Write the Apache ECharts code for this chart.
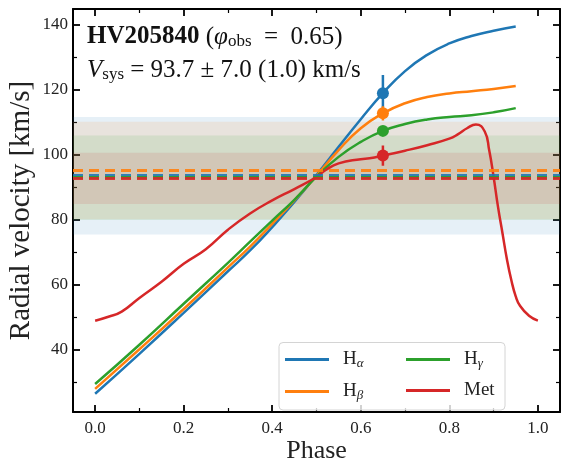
<!DOCTYPE html>
<html>
<head>
<meta charset="utf-8">
<script src="https://cdn.jsdelivr.net/npm/echarts@6/dist/echarts.min.js"></script>
<style>html,body{margin:0;padding:0;background:#fff}#c{width:561px;height:468px}</style>
</head>
<body>
<div id="c"></div>
<script>
// ---- data ----
const seriesNames = ['Hα', 'Hβ', 'Hγ', 'Met'];
const colors = ['#1f77b4', '#ff7f0e', '#2ca02c', '#d62728'];

const phaseBalmer = [0, 0.1, 0.2, 0.3, 0.35, 0.4, 0.45, 0.5, 0.55, 0.6, 0.65, 0.7, 0.75, 0.8, 0.85, 0.9, 0.95];
const hAlpha = [26.5, 38.8, 51.4, 64.2, 70.6, 77.8, 85.5, 93.8, 102.5, 111.0, 119.0, 125.8, 130.8, 134.3, 136.6, 138.2, 139.5];
const hBeta  = [28.0, 40.2, 52.6, 65.4, 71.8, 78.8, 86.0, 93.6, 101.5, 108.2, 112.8, 115.9, 117.8, 118.9, 119.6, 120.3, 121.2];
const hGamma = [29.5, 41.6, 54.2, 66.8, 73.3, 79.8, 86.2, 93.3, 99.4, 104.0, 107.4, 109.5, 110.9, 111.7, 112.2, 113.1, 114.4];

const phaseMet = [0, 0.03, 0.06, 0.1, 0.15, 0.2, 0.25, 0.3, 0.35, 0.4, 0.45, 0.5, 0.52, 0.55, 0.6, 0.62, 0.65, 0.7, 0.75, 0.8, 0.82, 0.84, 0.86, 0.88, 0.89, 0.9, 0.91, 0.92, 0.93, 0.94, 0.95, 0.96, 0.98, 1.0];
const met    = [49.0, 50.2, 51.8, 56.0, 61.0, 66.5, 71.0, 77.0, 82.0, 86.0, 89.5, 93.2, 95.3, 97.4, 98.7, 99.0, 99.8, 101.3, 103.0, 105.0, 106.4, 108.2, 109.4, 107.2, 101.5, 93.3, 84.0, 76.0, 68.0, 61.5, 56.5, 53.5, 50.5, 49.0];

const phaseObs = 0.65;
const obsValue = [119.0, 112.8, 107.4, 99.8];
const obsError = [5.6, 2.2, 1.0, 3.1];

const vsysValue = [93.6, 95.2, 93.0, 92.8];
const vsysError = [18.1, 15.0, 13.0, 7.9];

const xMajorTicks = [0.0, 0.2, 0.4, 0.6, 0.8, 1.0];
const xMinorTicks = [0.1, 0.3, 0.5, 0.7, 0.9];
const yMajorTicks = [40, 60, 80, 100, 120, 140];
const yMinorTicks = [30, 50, 70, 90, 110, 130];

// ---- chart ----
const FONT = '"Liberation Serif", "DejaVu Serif", serif';
const chart = echarts.init(document.getElementById('c'), null, {renderer: 'canvas'});

const pairs = (xs, ys) => xs.map((x, i) => [x, ys[i]]);
const curveData = [pairs(phaseBalmer, hAlpha), pairs(phaseBalmer, hBeta), pairs(phaseBalmer, hGamma), pairs(phaseMet, met)];

function rgba(hex, a) {
  const n = parseInt(hex.slice(1), 16);
  return `rgba(${(n >> 16) & 255},${(n >> 8) & 255},${n & 255},${a})`;
}

const X_MIN = -0.05, X_MAX = 1.05, Y_MIN = 20.9, Y_MAX = 144.9;
const GRID = {left: 73, right: 1, top: 9, bottom: 56, containLabel: false, outerBoundsMode: 'none'};

function xAx(grid, pos, ticks, len, w, labels, lineShow, extra) {
  return Object.assign({
    type: 'value', min: X_MIN, max: X_MAX, position: pos, gridIndex: grid, offset: 0,
    splitLine: {show: false},
    axisLine: {show: lineShow, onZero: false, lineStyle: {color: '#000', width: 2}},
    axisTick: {show: true, inside: true, length: len, lineStyle: {color: '#000', width: w}, customValues: ticks},
    axisLabel: labels ? {show: true, customValues: ticks, formatter: v => v.toFixed(1), fontFamily: FONT, fontSize: 17, color: '#222', margin: 8} : {show: false}
  }, extra || {});
}
function yAx(grid, pos, ticks, len, w, labels, lineShow, extra) {
  return Object.assign({
    type: 'value', min: Y_MIN, max: Y_MAX, position: pos, gridIndex: grid, offset: 0,
    splitLine: {show: false},
    axisLine: {show: lineShow, onZero: false, lineStyle: {color: '#000', width: 2}},
    axisTick: {show: true, inside: true, length: len, lineStyle: {color: '#000', width: w}, customValues: ticks},
    axisLabel: labels ? {show: true, customValues: ticks, formatter: v => String(v), fontFamily: FONT, fontSize: 17, color: '#222', margin: 5} : {show: false}
  }, extra || {});
}

const series = [];
// bands
seriesNames.forEach((n, i) => {
  series.push({
    name: n + '_band', type: 'line', data: [], xAxisIndex: 0, yAxisIndex: 0, z: 1, silent: true,
    markArea: {silent: true, itemStyle: {color: rgba(colors[i], 0.11)}, data: [[{yAxis: vsysValue[i] - vsysError[i]}, {yAxis: vsysValue[i] + vsysError[i]}]]}
  });
});
// dashed lines
seriesNames.forEach((n, i) => {
  series.push({
    name: n + '_vsys', type: 'line', data: [], xAxisIndex: 0, yAxisIndex: 0, z: 2, silent: true,
    markLine: {silent: true, symbol: ['none', 'none'], label: {show: false},
      lineStyle: {type: [10, 6], width: 3, color: rgba(colors[i], 0.9)},
      data: [{yAxis: vsysValue[i]}]}
  });
});
// curves
seriesNames.forEach((n, i) => {
  series.push({
    name: n, type: 'line', data: curveData[i], xAxisIndex: 0, yAxisIndex: 0, z: 3, symbol: 'none', showSymbol: false, smooth: 0.5,
    lineStyle: {width: 2.5, color: colors[i]}, itemStyle: {color: colors[i]}
  });
});
// error bars + markers
seriesNames.forEach((n, i) => {
  series.push({
    name: n + '_err', type: 'line', xAxisIndex: 0, yAxisIndex: 0, z: 4, symbol: 'none', silent: true,
    data: [[phaseObs, obsValue[i] - obsError[i]], [phaseObs, obsValue[i] + obsError[i]]],
    lineStyle: {width: 2.5, color: colors[i]}
  });
  series.push({
    name: n + '_obs', type: 'scatter', xAxisIndex: 0, yAxisIndex: 0, z: 5, symbolSize: 12, silent: true,
    data: [[phaseObs, obsValue[i]]], itemStyle: {color: colors[i], opacity: 1}
  });
});

const legendRich = {
  h: {fontFamily: FONT, fontSize: 19, lineHeight: 26, color: '#222', padding: [0, 0, 0, 9]},
  s: {fontFamily: FONT, fontSize: 13, lineHeight: 18, color: '#222', fontStyle: 'italic', padding: [8, 0, 0, 0]}
};
const legendFmt = name => name === 'Met' ? '{h|Met}' : '{h|H}{s|' + name.slice(1) + '}';

const titleRich = {
  b: {fontFamily: FONT, fontSize: 25, fontWeight: 'bold', lineHeight: 36, color: '#111'},
  r: {fontFamily: FONT, fontSize: 25, fontWeight: 'normal', lineHeight: 36, color: '#111'},
  i: {fontFamily: FONT, fontSize: 25, fontWeight: 'normal', fontStyle: 'italic', lineHeight: 36, color: '#111'},
  s: {fontFamily: FONT, fontSize: 17, fontWeight: 'normal', lineHeight: 26, padding: [10, 0, 0, 0], color: '#111'}
};

const legendCommon = {
  orient: 'vertical', top: 349, itemWidth: 44, itemHeight: 3, itemGap: 11, padding: 0, z: 20,
  icon: 'rect', selectedMode: false, formatter: legendFmt,
  textStyle: {fontWeight: 'normal', rich: legendRich}
};

chart.setOption({
  animation: false,
  backgroundColor: '#fff',
  grid: [Object.assign({}, GRID), Object.assign({}, GRID)],
  title: [
    {left: 87, top: 19, padding: 0, text: '{b|HV205840}{r| (}{i|φ}{s|obs}{r|  =  0.65)}', textStyle: {fontWeight: 'normal', rich: titleRich}},
    {left: 87, top: 52, padding: 0, text: '{i|V}{s|sys}{r| = 93.7 ± 7.0 (1.0) km/s}', textStyle: {fontWeight: 'normal', rich: titleRich}}
  ],
  xAxis: [
    xAx(0, 'bottom', xMajorTicks, 7, 1.8, true, true, {name: 'Phase', nameLocation: 'middle', nameGap: 26, nameMoveOverlap: false, nameTextStyle: {fontFamily: FONT, fontSize: 26, color: '#222'}}),
    xAx(0, 'top', xMajorTicks, 7, 1.8, false, true),
    xAx(1, 'bottom', xMinorTicks, 4, 1.2, false, false),
    xAx(1, 'top', xMinorTicks, 4, 1.2, false, false)
  ],
  yAxis: [
    yAx(0, 'left', yMajorTicks, 7, 1.8, true, true, {name: 'Radial velocity [km/s]', nameLocation: 'middle', nameGap: 37, nameRotate: 90, nameMoveOverlap: false, nameTextStyle: {fontFamily: FONT, fontSize: 29, color: '#222'}}),
    yAx(0, 'right', yMajorTicks, 7, 1.8, false, true),
    yAx(1, 'left', yMinorTicks, 4, 1.2, false, false),
    yAx(1, 'right', yMinorTicks, 4, 1.2, false, false)
  ],
  legend: [
    Object.assign({data: ['Hα', 'Hβ'], left: 285}, legendCommon),
    Object.assign({data: ['Hγ', 'Met'], left: 406}, legendCommon)
  ],
  graphic: [{
    type: 'rect', z: 15, silent: true,
    shape: {x: 279, y: 342.5, width: 226, height: 67.5, r: 4},
    style: {fill: 'rgba(255,255,255,0.8)', stroke: '#d4d4d4', lineWidth: 1}
  }],
  series: series
});
</script>
</body>
</html>
